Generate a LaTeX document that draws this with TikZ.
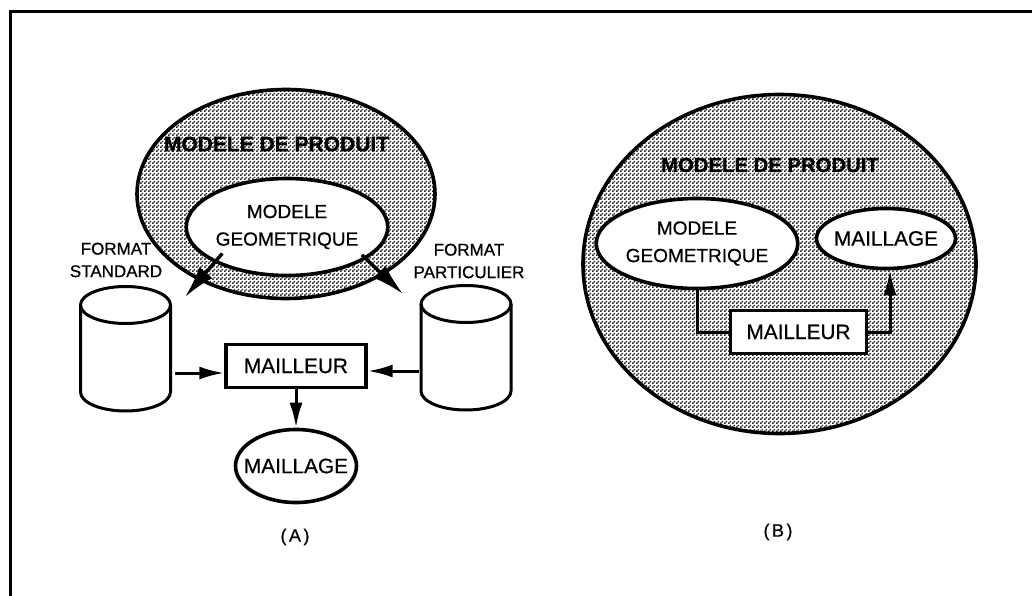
\documentclass[tikz,border=0pt]{standalone}
\usepackage{fontspec}
\setmainfont[FakeBold=0.7]{Liberation Sans}
\newfontfamily\capfont[LetterSpace=14,FakeBold=0.7]{Liberation Sans}
\usepackage{xcolor}
\usepackage{tikz}
\usetikzlibrary{calc, arrows.meta, shapes.geometric, patterns}
\pgfdeclarepatternformonly{dither}{\pgfqpoint{0pt}{0pt}}{\pgfqpoint{4pt}{4pt}}{\pgfqpoint{4pt}{4pt}}{
    \pgfpathrectangle{\pgfqpoint{0pt}{0pt}}{\pgfqpoint{2pt}{2pt}}
    \pgfpathrectangle{\pgfqpoint{2pt}{2pt}}{\pgfqpoint{2pt}{2pt}}
    \pgfusepath{fill}
}
\tikzset{
    product/.style={ellipse, draw=black, line width=3.6pt, pattern=dither, pattern color=black!85, inner sep=0pt},
    blob/.style={ellipse, draw=black, line width=3.6pt, fill=white, align=center, inner sep=0pt, font=\fontsize{19}{27.5}\selectfont},
    mesher/.style={rectangle, draw=black, line width=3.4pt, fill=white, inner sep=0pt, font=\fontsize{20.8}{24}\selectfont},
    disktop/.style={ellipse, draw=black, line width=3pt, inner sep=0pt, outer sep=0pt, minimum width=90pt, minimum height=37pt},
    format/.style={align=center, font=\fontsize{17}{22.5}\selectfont},
    caption/.style={font=\fontsize{18}{20}\capfont},
    arrow/.style={-{Latex[length=25pt,width=13pt]}, line width=3pt},
    bigarrow/.style={-{Latex[length=32pt,width=17pt]}, line width=3.4pt}
}
\begin{document}
\begin{tikzpicture}[x=1pt,y=-1pt]
        \useasboundingbox (0,0) rectangle (1032,596);

        % Frame
        \draw[line width=3pt] (10,596) -- (10,12) -- (1032,12);

        % Left part
        \node[product, minimum width=298pt, minimum height=209pt] (productA) at (286,194) {};
        \node[font=\fontsize{21}{24}\bfseries\selectfont] (titleA) at (276.5,144) {MODELE DE PRODUIT};
        \node[blob, minimum width=198pt, minimum height=97pt] (geomA) at (287,227) {MODELE\\GEOMETRIQUE};
        \node[format] (stdLabel) at (116,260) {FORMAT\\STANDARD};
        \node[format] (partLabel) at (469,261) {FORMAT\\PARTICULIER};
        \foreach \name/\x/\y in {stdDisk/125.5/305, partDisk/466/304} {
            \node[disktop] (\name) at (\x,\y) {};
            \draw[line width=3pt] (\name.west) -- ++(0,87) arc[start angle=180, end angle=360, x radius=45pt, y radius=19pt] -- (\name.east);
        }
        \node[mesher, minimum width=140pt, minimum height=43pt] (meshA) at (296,366) {MAILLEUR};
        \node[blob, font=\fontsize{20.8}{24}\selectfont, minimum width=121pt, minimum height=73pt] (meshedA) at (296,466) {\makebox[0pt]{MAILLAGE}};
        \node[caption] (capA) at (295,537) {(A)};

        \coordinate (stdTip) at (185,297);
        \coordinate (partTip) at (403,294);
        \coordinate (stdOut) at (175,373);
        \coordinate (partOut) at (419,371);
        \draw[bigarrow, shorten <=-12pt] (geomA.south west) -- (stdTip);
        \draw[bigarrow, shorten <=-6pt] (geomA.-22) -- (partTip);
        \draw[arrow] (stdOut) -- (meshA.west |- stdOut);
        \draw[arrow] (partOut) -- (meshA.east |- partOut);
        \draw[arrow] (meshA.south) -- (meshedA.north);

        % Right part
        \node[product, minimum width=393pt, minimum height=339pt] (productB) at (779.5,264) {};
        \node[font=\fontsize{20.3}{24}\bfseries\selectfont] (titleB) at (770,165) {MODELE DE PRODUIT};
        \node[blob, minimum width=197pt, minimum height=90pt] (geomB) at (697,243.5) {MODELE\\GEOMETRIQUE};
        \node[blob, font=\fontsize{20.8}{24}\selectfont, minimum width=139pt, minimum height=60pt] (meshedB) at (886,238.5) {\makebox[0pt]{MAILLAGE}};
        \node[mesher, minimum width=136pt, minimum height=43pt] (meshB) at (798.5,332) {MAILLEUR};
        \node[caption] (capB) at (778,532) {(B)};

        \draw[line width=3pt] (geomB.south) |- (meshB.west);
        \draw[arrow] (meshB.east) -| ([xshift=4pt]meshedB.south);
    \end{tikzpicture}
\end{document}
